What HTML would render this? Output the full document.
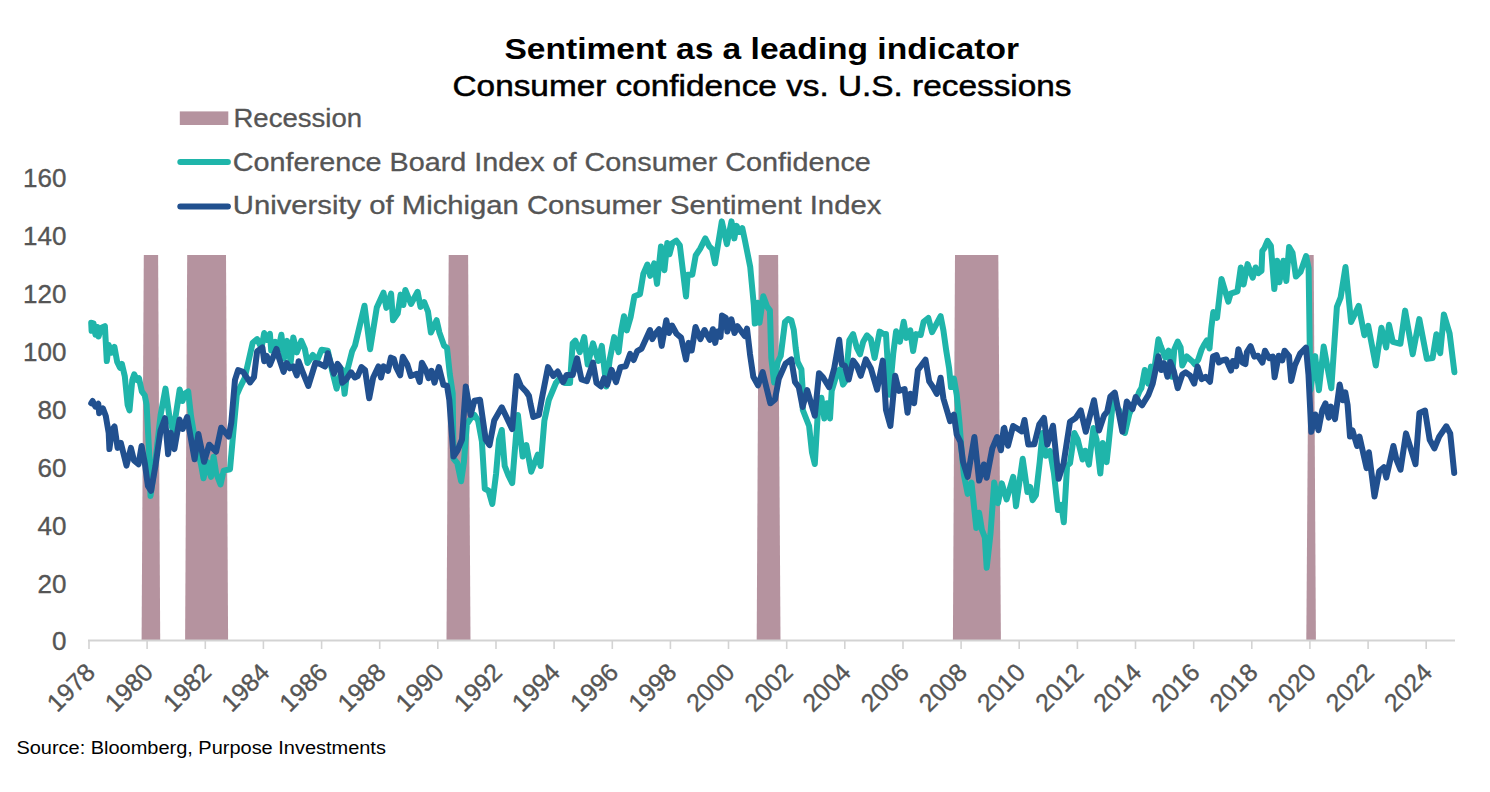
<!DOCTYPE html>
<html><head><meta charset="utf-8"><style>
html,body{margin:0;padding:0;background:#fff;}
body{width:1490px;height:792px;overflow:hidden;position:relative;}
svg{position:absolute;left:0;top:0;}
text{font-family:"Liberation Sans",sans-serif;}
</style></head><body>
<svg width="1490" height="792" viewBox="0 0 1490 792">
<rect width="1490" height="792" fill="#fff"/>
<text x="504.5" y="59" font-size="29" font-weight="bold" fill="#000" textLength="514.5" lengthAdjust="spacingAndGlyphs">Sentiment as a leading indicator</text>
<text x="452.5" y="96" font-size="29" fill="#000" stroke="#000" stroke-width="0.5" textLength="619" lengthAdjust="spacingAndGlyphs">Consumer confidence vs. U.S. recessions</text>
<polygon points="143.8,255.1 158.1,255.1 160.2,640.0 141.6,640.0" fill="#b5939f"/><polygon points="187.2,255.1 226.0,255.1 228.1,640.0 185.1,640.0" fill="#b5939f"/><polygon points="448.7,255.1 468.1,255.1 470.5,640.0 446.5,640.0" fill="#b5939f"/><polygon points="758.7,255.1 778.1,255.1 780.5,640.0 756.7,640.0" fill="#b5939f"/><polygon points="955,255.1 998.3,255.1 1000.9,640.0 952.9,640.0" fill="#b5939f"/><polygon points="1309.1,255.1 1313.7,255.1 1315.9,640.0 1306.3,640.0" fill="#b5939f"/>
<line x1="88" y1="640.5" x2="1455" y2="640.5" stroke="#d3d3d3" stroke-width="1.8"/>
<line x1="89.0" y1="640" x2="89.0" y2="649" stroke="#d3d3d3" stroke-width="1.6"/><line x1="147.1" y1="640" x2="147.1" y2="649" stroke="#d3d3d3" stroke-width="1.6"/><line x1="205.3" y1="640" x2="205.3" y2="649" stroke="#d3d3d3" stroke-width="1.6"/><line x1="263.4" y1="640" x2="263.4" y2="649" stroke="#d3d3d3" stroke-width="1.6"/><line x1="321.6" y1="640" x2="321.6" y2="649" stroke="#d3d3d3" stroke-width="1.6"/><line x1="379.7" y1="640" x2="379.7" y2="649" stroke="#d3d3d3" stroke-width="1.6"/><line x1="437.8" y1="640" x2="437.8" y2="649" stroke="#d3d3d3" stroke-width="1.6"/><line x1="496.0" y1="640" x2="496.0" y2="649" stroke="#d3d3d3" stroke-width="1.6"/><line x1="554.1" y1="640" x2="554.1" y2="649" stroke="#d3d3d3" stroke-width="1.6"/><line x1="612.3" y1="640" x2="612.3" y2="649" stroke="#d3d3d3" stroke-width="1.6"/><line x1="670.4" y1="640" x2="670.4" y2="649" stroke="#d3d3d3" stroke-width="1.6"/><line x1="728.5" y1="640" x2="728.5" y2="649" stroke="#d3d3d3" stroke-width="1.6"/><line x1="786.7" y1="640" x2="786.7" y2="649" stroke="#d3d3d3" stroke-width="1.6"/><line x1="844.8" y1="640" x2="844.8" y2="649" stroke="#d3d3d3" stroke-width="1.6"/><line x1="903.0" y1="640" x2="903.0" y2="649" stroke="#d3d3d3" stroke-width="1.6"/><line x1="961.1" y1="640" x2="961.1" y2="649" stroke="#d3d3d3" stroke-width="1.6"/><line x1="1019.2" y1="640" x2="1019.2" y2="649" stroke="#d3d3d3" stroke-width="1.6"/><line x1="1077.4" y1="640" x2="1077.4" y2="649" stroke="#d3d3d3" stroke-width="1.6"/><line x1="1135.5" y1="640" x2="1135.5" y2="649" stroke="#d3d3d3" stroke-width="1.6"/><line x1="1193.7" y1="640" x2="1193.7" y2="649" stroke="#d3d3d3" stroke-width="1.6"/><line x1="1251.8" y1="640" x2="1251.8" y2="649" stroke="#d3d3d3" stroke-width="1.6"/><line x1="1309.9" y1="640" x2="1309.9" y2="649" stroke="#d3d3d3" stroke-width="1.6"/><line x1="1368.1" y1="640" x2="1368.1" y2="649" stroke="#d3d3d3" stroke-width="1.6"/><line x1="1426.2" y1="640" x2="1426.2" y2="649" stroke="#d3d3d3" stroke-width="1.6"/>
<polyline points="91.2,322.8 91.6,330.8 93.5,323.3 95.4,334.6 97.3,327.0 98.6,336.5 101.1,328.0 104.9,326.1 106.8,361.1 108.7,345.0 111.5,352.6 114.4,346.9 117.2,362.0 120.0,367.8 121.9,364.0 124.8,376.3 127.6,404.7 129.5,410.4 132.3,380.0 134.2,374.4 137.1,380.0 139.0,378.2 141.8,391.4 144.7,395.2 146.6,404.7 149.4,457.7 150.5,495.9 155.5,460.0 160.6,415.0 165.5,388.6 169.3,416.0 173.2,432.0 179.7,389.5 182.5,401.0 185.4,393.3 188.2,391.4 191.0,416.0 194.8,438.8 201.0,464.3 203.5,478.2 207.3,461.8 211.0,476.9 213.6,456.7 216.1,473.0 220.5,484.5 223.7,470.6 230.0,469.3 232.5,441.6 236.8,394.8 240.3,386.8 244.7,378.0 252.7,342.7 257.1,339.1 261.5,348.0 264.2,333.0 266.8,340.0 269.9,333.8 271.2,350.6 275.2,341.8 278.3,349.7 281.4,334.7 284.0,358.6 287.1,340.9 290.7,362.1 293.3,337.4 296.8,352.4 301.3,340.9 304.8,348.9 307.5,363.0 312.8,355.0 317.2,360.3 321.6,349.7 327.8,350.6 332.2,371.0 336.6,388.6 340.0,376.0 341.9,369.2 344.6,393.8 347.4,370.0 352.2,351.1 355.0,345.5 364.5,305.7 370.1,349.2 376.8,307.6 383.5,292.7 386.4,307.9 391.1,293.7 393.0,320.2 397.7,313.6 400.6,294.6 403.4,305.0 405.3,289.9 411.0,304.0 417.6,291.8 420.5,306.9 424.2,302.2 428.0,311.7 430.9,332.5 436.6,320.2 439.4,332.5 444.1,345.8 447.0,347.7 449.8,374.2 452.7,393.1 453.5,458.5 457.3,463.2 461.1,481.2 463.9,462.3 466.8,424.4 470.6,418.7 474.4,414.9 478.1,420.6 481.9,441.4 484.8,488.8 488.6,490.7 492.3,504.0 496.1,473.6 499.0,439.5 501.8,430.0 504.7,466.0 508.4,475.5 512.2,483.1 516.0,435.8 517.9,414.9 522.7,456.6 526.4,445.2 531.2,471.7 537.8,454.7 540.6,466.0 544.4,420.6 548.8,400.0 555.9,383.0 560.0,378.0 564.7,383.0 570.0,383.0 572.7,343.3 575.3,340.6 579.8,352.1 584.2,337.1 587.7,364.5 593.0,343.3 598.3,360.9 601.8,345.9 606.3,386.5 609.8,359.2 614.2,337.1 618.6,352.1 621.3,330.0 624.0,316.2 626.8,330.4 630.6,317.1 634.4,296.3 640.0,294.1 643.4,273.6 647.4,264.5 650.2,275.9 654.2,263.4 657.0,283.9 661.0,246.4 664.4,270.2 667.3,243.0 669.5,254.3 672.4,243.0 676.4,240.7 679.8,245.2 686.0,296.4 687.7,274.8 692.3,274.8 695.7,255.5 700.2,248.6 705.3,238.4 709.3,246.4 712.0,249.0 715.0,263.4 721.8,221.4 726.9,244.1 731.5,221.4 734.3,238.4 736.6,225.9 739.5,232.0 742.3,228.2 744.5,238.4 750.2,266.8 753.8,304.7 754.8,323.6 757.6,302.8 759.5,322.7 763.3,296.2 767.1,306.6 769.9,310.4 771.3,357.9 774.1,382.5 777.9,361.7 780.7,356.0 785.0,322.0 788.3,319.0 791.3,320.2 793.8,330.0 795.7,348.0 797.6,361.9 801.4,369.4 802.6,388.4 802.8,410.0 809.1,426.0 812.0,452.6 814.8,464.0 817.7,414.7 821.4,397.7 824.3,418.5 827.1,403.3 830.0,418.5 831.7,391.0 836.7,374.5 839.9,369.4 843.0,384.6 845.6,380.8 849.3,340.4 853.1,334.1 856.9,348.0 860.0,354.3 863.2,341.7 867.0,335.4 870.8,339.1 874.6,358.0 879.6,331.6 883.4,334.1 886.0,334.1 889.5,394.7 893.3,353.0 896.1,331.3 899.9,341.7 903.7,321.8 906.5,337.9 910.3,330.3 913.1,351.1 916.0,334.1 920.7,335.0 923.6,321.8 928.3,318.0 932.1,332.2 940.6,316.1 943.4,330.3 946.3,351.1 949.1,368.2 951.0,387.1 953.9,378.6 956.7,394.7 959.5,423.1 961.1,444.6 963.9,474.9 967.7,493.9 971.5,482.5 976.3,528.0 979.1,512.8 981.9,529.8 984.8,537.4 986.7,567.7 990.5,533.6 994.2,482.5 998.0,503.3 1001.8,483.4 1006.6,499.5 1013.2,476.8 1016.0,506.2 1022.7,458.8 1027.4,492.0 1030.2,487.0 1032.6,500.2 1035.9,495.2 1039.7,462.0 1042.5,433.0 1045.8,455.8 1050.0,451.0 1053.9,473.0 1058.0,510.0 1061.4,505.0 1063.8,522.3 1067.1,465.7 1070.0,463.3 1074.4,433.0 1077.6,439.3 1082.6,459.5 1085.2,450.7 1088.9,464.6 1093.4,428.0 1096.5,439.3 1100.3,473.4 1102.8,443.1 1106.6,462.1 1108.5,445.0 1112.9,401.5 1119.2,410.3 1124.9,433.0 1129.3,414.1 1133.1,405.3 1136.0,400.0 1139.4,391.4 1141.4,388.2 1144.8,370.0 1148.2,383.6 1151.0,366.6 1154.0,372.0 1158.4,339.3 1160.7,346.1 1165.2,357.5 1168.6,350.7 1172.0,376.8 1174.3,349.5 1177.7,341.6 1180.6,347.3 1182.3,365.5 1186.8,356.4 1191.9,360.9 1194.8,364.3 1198.2,359.8 1201.6,349.5 1203.9,345.0 1206.7,340.5 1209.5,348.4 1211.3,328.0 1213.3,312.1 1217.0,317.8 1221.5,278.9 1228.3,301.6 1230.6,293.6 1237.4,291.4 1240.8,267.5 1243.6,284.5 1247.6,264.1 1252.7,277.7 1255.6,267.5 1258.4,273.2 1261.5,270.9 1262.3,251.0 1264.5,248.0 1267.5,240.8 1270.9,245.9 1274.3,289.1 1277.2,260.7 1279.4,282.3 1283.4,260.7 1286.3,281.1 1289.1,247.0 1292.5,252.7 1295.9,276.6 1300.5,272.0 1306.1,256.1 1308.6,268.0 1310.4,390.2 1315.2,356.1 1318.9,390.2 1323.7,346.6 1331.3,388.3 1336.9,306.8 1340.7,297.3 1345.5,267.0 1351.1,322.0 1358.7,305.9 1364.4,335.2 1368.2,325.8 1375.8,365.5 1381.4,327.7 1386.2,347.5 1389.0,324.8 1392.8,341.9 1400.4,343.8 1405.1,310.6 1412.7,354.2 1419.3,319.1 1426.9,358.9 1432.6,358.0 1436.4,334.3 1440.2,353.2 1443.9,314.4 1449.6,333.3 1454.4,372.2" fill="none" stroke="#1fb5aa" stroke-width="6" stroke-linejoin="round" stroke-linecap="round"/>
<polyline points="91.2,403.3 92.6,401.0 95.4,406.6 98.3,403.8 99.2,413.2 103.0,408.5 105.8,416.0 108.7,433.0 109.4,449.1 112.0,430.2 114.5,426.4 117.6,447.9 120.8,442.8 126.5,465.6 130.9,447.9 134.0,460.5 138.5,464.3 141.6,446.0 144.8,463.0 147.9,485.8 151.1,490.8 155.5,465.6 160.6,430.2 165.0,418.2 168.1,454.2 170.7,432.7 174.4,449.1 179.5,419.5 182.7,429.0 187.1,417.0 194.6,459.2 198.4,434.0 204.1,461.8 209.2,444.7 216.1,451.7 221.2,427.7 228.7,436.5 231.3,422.6 235.0,379.8 238.1,370.1 243.0,371.8 250.0,382.4 254.0,377.1 257.1,351.5 262.4,347.5 264.2,361.2 266.8,355.9 269.9,364.8 276.5,348.9 279.2,358.6 283.6,371.8 286.7,363.0 289.8,368.3 293.3,366.5 296.8,375.4 298.6,361.2 302.2,370.9 308.3,386.0 315.4,363.0 319.8,363.9 325.1,366.5 327.8,353.3 334.0,373.6 337.5,363.9 340.0,367.1 342.2,382.7 345.9,379.7 351.1,372.3 354.8,377.5 357.7,376.0 361.4,367.1 365.1,370.1 369.2,398.2 373.2,377.5 378.4,366.4 381.0,377.5 383.6,366.4 388.0,370.8 390.9,357.6 393.9,359.0 396.1,367.1 400.2,375.3 402.8,356.8 407.2,364.2 410.9,376.0 416.8,373.8 419.7,381.9 421.9,362.7 425.6,369.4 428.6,378.2 431.5,370.8 434.5,382.7 438.9,367.1 443.4,384.9 447.0,385.6 449.3,400.0 453.5,456.6 457.3,450.9 462.0,439.5 465.8,386.5 470.6,414.9 474.4,400.7 480.0,399.8 485.7,439.5 489.5,445.2 494.2,420.6 501.8,407.3 512.2,429.1 516.7,376.0 520.8,386.0 526.4,392.0 529.0,396.0 530.5,404.0 533.3,417.0 538.9,415.0 541.8,398.9 548.0,367.1 553.3,375.9 557.7,371.5 563.0,382.1 566.5,375.1 572.7,375.1 577.1,358.3 581.5,379.5 586.8,381.2 593.0,362.7 596.5,383.0 601.0,386.5 604.0,378.0 607.2,384.8 611.6,369.8 616.0,382.1 620.4,367.1 625.7,366.2 630.1,353.9 633.7,360.0 637.2,351.2 641.6,348.6 650.0,330.0 652.3,339.1 655.3,333.8 659.1,329.2 661.7,345.9 666.3,320.2 668.9,333.0 672.0,325.5 676.5,333.8 681.1,337.6 686.0,359.5 688.6,342.9 691.7,350.5 695.5,327.0 700.4,339.1 704.5,330.0 709.8,339.8 712.9,329.2 715.2,342.9 717.4,331.5 720.5,336.8 722.0,315.6 725.8,317.9 727.3,331.5 731.4,319.4 734.5,333.0 737.5,326.2 744.7,336.1 747.0,328.5 750.0,354.2 753.3,376.8 758.0,385.3 762.7,372.1 770.3,403.3 775.0,399.5 778.8,378.7 785.5,363.6 791.3,359.3 795.0,382.0 798.8,387.1 802.6,407.0 807.2,390.1 814.8,415.6 819.0,373.2 822.8,377.0 829.1,387.1 834.2,368.2 839.2,339.8 841.8,364.4 844.9,365.7 848.7,379.5 853.1,360.6 856.9,365.7 860.7,375.8 865.8,359.3 870.8,368.2 877.1,389.6 882.8,360.6 886.0,410.0 890.4,425.9 890.4,425.9 895.2,375.8 898.9,390.9 904.6,389.0 907.5,412.7 910.3,393.8 914.1,403.2 917.9,370.0 925.5,359.7 929.2,381.4 933.0,387.1 936.8,393.8 940.6,377.7 943.4,398.5 950.1,421.2 953.9,414.6 956.7,434.5 960.5,442.0 963.0,461.7 967.7,476.8 974.4,437.0 979.1,480.6 983.8,464.5 986.7,477.8 992.3,448.4 997.1,437.0 1000.9,450.3 1003.7,428.5 1004.3,428.0 1008.0,445.7 1013.1,426.0 1021.7,431.4 1024.5,420.0 1028.3,444.6 1034.3,444.3 1039.2,424.6 1044.0,418.0 1047.3,444.6 1053.0,425.7 1058.6,478.7 1063.6,463.3 1070.0,421.7 1075.7,417.9 1080.7,410.3 1085.8,431.8 1094.0,400.2 1099.0,430.5 1104.1,415.4 1107.2,411.6 1110.4,396.4 1114.8,392.6 1122.4,431.8 1126.8,401.5 1132.5,409.0 1135.7,397.0 1139.0,402.0 1142.0,405.3 1148.3,395.2 1152.7,383.6 1158.4,356.4 1161.3,370.0 1164.1,363.2 1167.5,376.8 1170.3,362.0 1173.8,371.1 1177.7,388.2 1182.3,374.5 1185.7,372.3 1190.2,375.7 1194.2,383.6 1197.6,366.6 1201.6,379.1 1205.6,376.8 1210.0,381.7 1213.0,356.6 1216.6,355.1 1218.9,362.5 1222.0,360.5 1226.2,359.5 1231.0,370.6 1232.9,361.0 1236.2,366.2 1238.4,349.2 1242.5,362.5 1245.4,364.0 1246.9,352.1 1250.6,346.2 1254.3,356.6 1258.0,355.8 1262.4,362.5 1265.0,350.7 1269.1,358.1 1272.8,356.6 1274.6,377.2 1278.7,355.8 1282.3,360.3 1284.6,350.7 1287.5,354.4 1289.0,356.0 1291.2,380.9 1294.9,365.4 1300.1,353.6 1306.0,347.7 1308.5,375.0 1311.3,431.8 1315.3,414.5 1318.4,430.2 1320.3,420.0 1322.4,409.7 1325.5,403.4 1328.7,417.6 1331.0,406.6 1335.0,419.2 1339.7,384.5 1342.9,400.3 1345.3,392.4 1347.6,405.0 1350.0,436.6 1352.4,430.2 1357.1,446.0 1359.5,436.6 1366.6,468.1 1368.9,452.3 1374.5,496.5 1379.2,471.3 1383.9,467.3 1386.3,477.6 1393.4,446.0 1396.6,460.2 1400.5,469.7 1406.0,433.4 1415.5,464.2 1419.4,412.9 1425.0,410.5 1429.7,439.7 1434.4,448.4 1439.2,436.6 1446.3,426.3 1450.2,433.4 1454.2,472.9" fill="none" stroke="#21508f" stroke-width="6" stroke-linejoin="round" stroke-linecap="round"/>
<g font-size="26" fill="#555" stroke="#555" stroke-width="0.35"><text x="66.5" y="650.4" text-anchor="end">0</text><text x="66.5" y="592.5" text-anchor="end">20</text><text x="66.5" y="534.6" text-anchor="end">40</text><text x="66.5" y="476.7" text-anchor="end">60</text><text x="66.5" y="418.8" text-anchor="end">80</text><text x="66.5" y="360.9" text-anchor="end">100</text><text x="66.5" y="303.0" text-anchor="end">120</text><text x="66.5" y="245.1" text-anchor="end">140</text><text x="66.5" y="187.2" text-anchor="end">160</text></g>
<g font-size="25" fill="#555" stroke="#555" stroke-width="0.35"><text transform="translate(90.2,667.5) rotate(-45)" x="0" y="9" text-anchor="end">1978</text><text transform="translate(148.3,667.5) rotate(-45)" x="0" y="9" text-anchor="end">1980</text><text transform="translate(206.5,667.5) rotate(-45)" x="0" y="9" text-anchor="end">1982</text><text transform="translate(264.6,667.5) rotate(-45)" x="0" y="9" text-anchor="end">1984</text><text transform="translate(322.8,667.5) rotate(-45)" x="0" y="9" text-anchor="end">1986</text><text transform="translate(380.9,667.5) rotate(-45)" x="0" y="9" text-anchor="end">1988</text><text transform="translate(439.0,667.5) rotate(-45)" x="0" y="9" text-anchor="end">1990</text><text transform="translate(497.2,667.5) rotate(-45)" x="0" y="9" text-anchor="end">1992</text><text transform="translate(555.3,667.5) rotate(-45)" x="0" y="9" text-anchor="end">1994</text><text transform="translate(613.5,667.5) rotate(-45)" x="0" y="9" text-anchor="end">1996</text><text transform="translate(671.6,667.5) rotate(-45)" x="0" y="9" text-anchor="end">1998</text><text transform="translate(729.7,667.5) rotate(-45)" x="0" y="9" text-anchor="end">2000</text><text transform="translate(787.9,667.5) rotate(-45)" x="0" y="9" text-anchor="end">2002</text><text transform="translate(846.0,667.5) rotate(-45)" x="0" y="9" text-anchor="end">2004</text><text transform="translate(904.2,667.5) rotate(-45)" x="0" y="9" text-anchor="end">2006</text><text transform="translate(962.3,667.5) rotate(-45)" x="0" y="9" text-anchor="end">2008</text><text transform="translate(1020.4,667.5) rotate(-45)" x="0" y="9" text-anchor="end">2010</text><text transform="translate(1078.6,667.5) rotate(-45)" x="0" y="9" text-anchor="end">2012</text><text transform="translate(1136.7,667.5) rotate(-45)" x="0" y="9" text-anchor="end">2014</text><text transform="translate(1194.9,667.5) rotate(-45)" x="0" y="9" text-anchor="end">2016</text><text transform="translate(1253.0,667.5) rotate(-45)" x="0" y="9" text-anchor="end">2018</text><text transform="translate(1311.1,667.5) rotate(-45)" x="0" y="9" text-anchor="end">2020</text><text transform="translate(1369.3,667.5) rotate(-45)" x="0" y="9" text-anchor="end">2022</text><text transform="translate(1427.4,667.5) rotate(-45)" x="0" y="9" text-anchor="end">2024</text></g>
<rect x="179.8" y="111.4" width="48.5" height="13.6" fill="#b5939f"/>
<line x1="180.3" y1="162.1" x2="227.9" y2="162.1" stroke="#1fb5aa" stroke-width="6" stroke-linecap="round"/>
<line x1="180.3" y1="206.4" x2="227.9" y2="206.4" stroke="#21508f" stroke-width="6" stroke-linecap="round"/>
<g font-size="25" fill="#555" stroke="#555" stroke-width="0.3">
<text x="233.5" y="127.3" textLength="128.5" lengthAdjust="spacingAndGlyphs">Recession</text>
<text x="232.8" y="171" textLength="638" lengthAdjust="spacingAndGlyphs">Conference Board Index of Consumer Confidence</text>
<text x="232.8" y="214.4" textLength="648.5" lengthAdjust="spacingAndGlyphs">University of Michigan Consumer Sentiment Index</text>
</g>
<text x="16.4" y="753.8" font-size="18" fill="#000" textLength="369.5" lengthAdjust="spacingAndGlyphs">Source: Bloomberg, Purpose Investments</text>
</svg>
</body></html>
